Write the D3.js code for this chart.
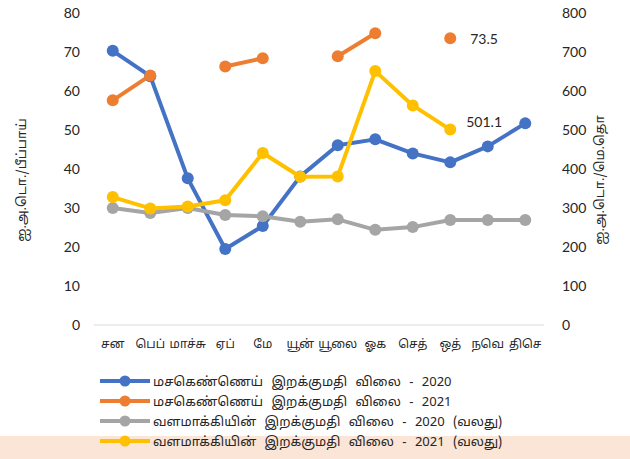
<!DOCTYPE html>
<html>
<head>
<meta charset="utf-8">
<script src="https://cdn.jsdelivr.net/npm/d3@7"></script>
<style>
  body { margin: 0; background: #fff; }
  svg { display: block; font-family: Lato, "Open Sans", sans-serif; }
  .ta { font-family: 'Noto Sans Tamil', 'Latha', serif; }
</style>
</head>
<body>
<svg id="chart" width="630" height="459"></svg>
<script>
const months = ["சன", "பெப்", "மாச்சு", "ஏப்", "மே", "யூன்", "யூலை", "ஓக", "செத்", "ஒத்", "நவெ", "திசெ"];
const petrol2020 = [70.3, 63.8, 37.6, 19.5, 25.4, 38.1, 46.1, 47.6, 44.0, 41.7, 45.8, 51.7];
const petrol2021 = [57.6, 64.0, null, 66.3, 68.4, null, 68.9, 74.8, null, 73.5, null, null];
const fert2020 = [300, 287, 300, 282, 279, 265, 271, 244, 251, 269, 269, 269];
const fert2021 = [328, 299, 304, 320, 441, 380, 381, 651, 563, 501.1, null, null];
const leftTicks = [0, 10, 20, 30, 40, 50, 60, 70, 80];
const rightTicks = [0, 100, 200, 300, 400, 500, 600, 700, 800];

const series = [
  { name: "மசகெண்ணெய் இறக்குமதி விலை - 2020", values: petrol2020, axis: "left", color: "#4472C4" },
  { name: "மசகெண்ணெய் இறக்குமதி விலை - 2021", values: petrol2021, axis: "left", color: "#ED7D31" },
  { name: "வளமாக்கியின் இறக்குமதி விலை - 2020 (வலது)", values: fert2020, axis: "right", color: "#A5A5A5" },
  { name: "வளமாக்கியின் இறக்குமதி விலை - 2021 (வலது)", values: fert2021, axis: "right", color: "#FFC000" }
];

const svg = d3.select("#chart");

// peach band at the bottom
svg.append("rect").attr("x", 0).attr("y", 436).attr("width", 630).attr("height", 23).attr("fill", "#FBE5D6");

const x = d3.scaleBand().domain(months).range([94, 544]);
const yL = d3.scaleLinear().domain([0, 80]).range([325, 13]);
const yR = d3.scaleLinear().domain([0, 800]).range([325, 13]);

// baseline
svg.append("line").attr("x1", 94).attr("x2", 544).attr("y1", yL(0)).attr("y2", yL(0))
  .attr("stroke", "#d9d9d9").attr("stroke-width", 1);

const axL = svg.append("g").attr("transform", "translate(80,0)")
  .call(d3.axisLeft(yL).tickValues(leftTicks).tickSize(0).tickPadding(0));
const axR = svg.append("g").attr("transform", "translate(562,0)")
  .call(d3.axisRight(yR).tickValues(rightTicks).tickSize(0).tickPadding(0));
const axB = svg.append("g").attr("transform", "translate(0,325)")
  .call(d3.axisBottom(x).tickSize(0).tickPadding(14));
[axL, axR, axB].forEach(a => {
  a.select(".domain").remove();
  a.selectAll("text").attr("fill", "#262626").style("font-size", "14px").style("font-family", "Lato, sans-serif");
});
axB.selectAll("text").attr("class", "ta").style("font-size", "12px").style("font-family", null);
axL.selectAll("text").attr("text-anchor", "end");
axR.selectAll("text").attr("text-anchor", "start");

// axis titles
svg.append("text").attr("class", "ta").attr("transform", "translate(26,180) rotate(-90)")
  .attr("text-anchor", "middle").attr("fill", "#262626").style("font-size", "13px")
  .text("ஐ.அ.டொ./பீப்பாய்");
svg.append("text").attr("class", "ta").attr("transform", "translate(604,180) rotate(-90)")
  .attr("text-anchor", "middle").attr("fill", "#262626").style("font-size", "13px")
  .text("ஐ.அ.டொ./மெ.தொ");

const cx = d => x(d) + x.bandwidth() / 2;

series.forEach(s => {
  const y = s.axis === "left" ? yL : yR;
  const pts = s.values.map((v, i) => ({ m: months[i], v }));
  const line = d3.line().defined(d => d.v != null).x(d => cx(d.m)).y(d => y(d.v));
  svg.append("path").datum(pts).attr("d", line).attr("fill", "none")
    .attr("stroke", s.color).attr("stroke-width", 4).attr("stroke-linejoin", "round");
  svg.selectAll(null).data(pts.filter(d => d.v != null)).join("circle")
    .attr("cx", d => cx(d.m)).attr("cy", d => y(d.v)).attr("r", 6).attr("fill", s.color);
});

// data labels
svg.append("text").attr("x", cx("ஒத்") + 20).attr("y", yL(73.5) + 6)
  .attr("fill", "#262626").style("font-size", "14px").text("73.5");
svg.append("text").attr("x", cx("ஒத்") + 16).attr("y", yR(501.1) - 3)
  .attr("fill", "#262626").style("font-size", "14px").text("501.1");

// legend
const lg = svg.append("g").attr("transform", "translate(100,381)");
series.forEach((s, i) => {
  const g = lg.append("g").attr("transform", `translate(0,${i * 20})`);
  g.append("line").attr("x1", 0).attr("x2", 50).attr("y1", 0).attr("y2", 0)
    .attr("stroke", s.color).attr("stroke-width", 4);
  g.append("circle").attr("cx", 25).attr("cy", 0).attr("r", 5.5).attr("fill", s.color);
  g.append("text").attr("class", "ta").attr("x", 53).attr("y", 5).attr("fill", "#262626")
    .style("font-size", "13px").style("word-spacing", "5px").text(s.name);
});
</script>
</body>
</html>
